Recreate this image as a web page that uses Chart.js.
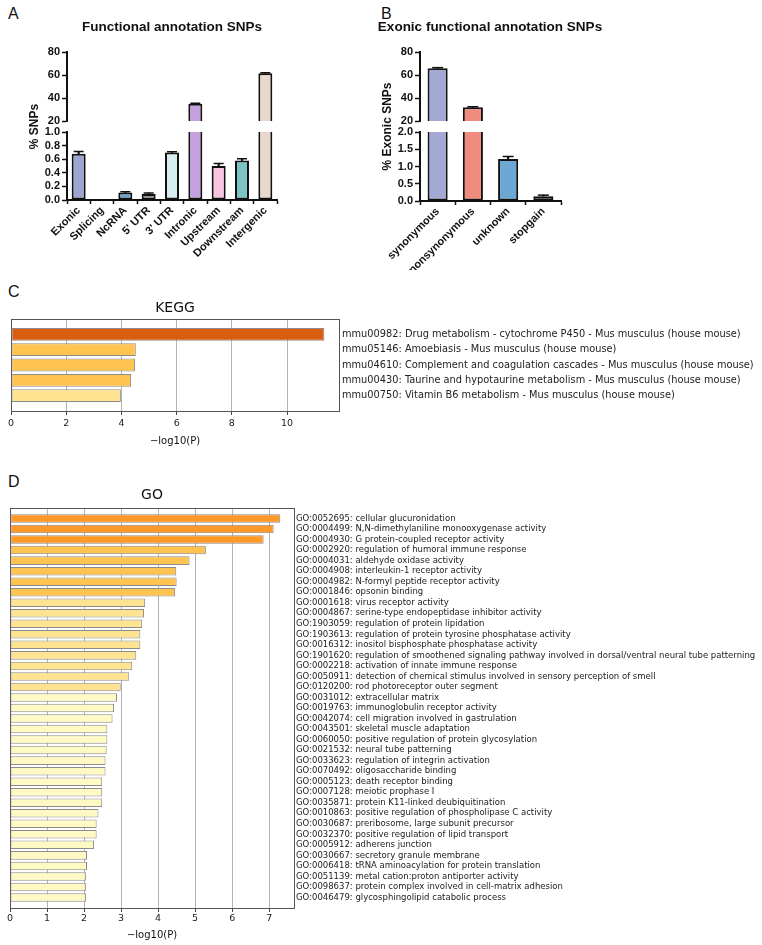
<!DOCTYPE html>
<html>
<head>
<meta charset="utf-8">
<script src="https://cdn.jsdelivr.net/npm/chart.js@4.4.1/dist/chart.umd.min.js"></script>
<style>
  body { margin: 0; background: #fff; width: 762px; height: 945px; position: relative; overflow: hidden; }
  canvas { position: absolute; }
  .tag { position: absolute; font: 16px "Liberation Sans", Arial, sans-serif; line-height: 16px; color: #111; }
</style>
</head>
<body>
<div class="tag" style="left:8px;top:6px">A</div>
<div class="tag" style="left:381px;top:6px">B</div>
<div class="tag" style="left:8px;top:284px">C</div>
<div class="tag" style="left:8px;top:474px">D</div>

<canvas id="chart-snp" width="380" height="270" style="left:0;top:0"></canvas>
<canvas id="chart-exonic" width="240" height="270" style="left:370px;top:0"></canvas>
<canvas id="chart-kegg" width="762" height="156" style="left:0;top:295px"></canvas>
<canvas id="chart-go" width="762" height="467" style="left:0;top:478px"></canvas>

<script>
// ---- A: functional annotation SNPs
const snpCategories = ['Exonic', 'Splicing', 'NcRNA', "5' UTR", "3' UTR", 'Intronic', 'Upstream', 'Downstream', 'Intergenic'];
const snpPercent = [0.68, 0, 0.11, 0.09, 0.70, 35.0, 0.50, 0.58, 61.5];
const snpError = [0.035, 0, 0.01, 0.012, 0.01, 0.4, 0.035, 0.025, 0.4];

// ---- B: exonic functional annotation SNPs
const exonicCategories = ['synonymous', 'nonsynonymous', 'unknown', 'stopgain'];
const exonicPercent = [65.8, 31.9, 1.22, 0.14];
const exonicError = [0.6, 0.5, 0.07, 0.03];

// ---- C: KEGG enrichment
const keggTerms = [
  'mmu00982: Drug metabolism - cytochrome P450 - Mus musculus (house mouse)',
  'mmu05146: Amoebiasis - Mus musculus (house mouse)',
  'mmu04610: Complement and coagulation cascades - Mus musculus (house mouse)',
  'mmu00430: Taurine and hypotaurine metabolism - Mus musculus (house mouse)',
  'mmu00750: Vitamin B6 metabolism - Mus musculus (house mouse)'
];
const keggLogP = [11.35, 4.52, 4.49, 4.35, 3.98];

// ---- D: GO enrichment
const goTerms = [
  'GO:0052695: cellular glucuronidation',
  'GO:0004499: N,N-dimethylaniline monooxygenase activity',
  'GO:0004930: G protein-coupled receptor activity',
  'GO:0002920: regulation of humoral immune response',
  'GO:0004031: aldehyde oxidase activity',
  'GO:0004908: interleukin-1 receptor activity',
  'GO:0004982: N-formyl peptide receptor activity',
  'GO:0001846: opsonin binding',
  'GO:0001618: virus receptor activity',
  'GO:0004867: serine-type endopeptidase inhibitor activity',
  'GO:1903059: regulation of protein lipidation',
  'GO:1903613: regulation of protein tyrosine phosphatase activity',
  'GO:0016312: inositol bisphosphate phosphatase activity',
  'GO:1901620: regulation of smoothened signaling pathway involved in dorsal/ventral neural tube patterning',
  'GO:0002218: activation of innate immune response',
  'GO:0050911: detection of chemical stimulus involved in sensory perception of smell',
  'GO:0120200: rod photoreceptor outer segment',
  'GO:0031012: extracellular matrix',
  'GO:0019763: immunoglobulin receptor activity',
  'GO:0042074: cell migration involved in gastrulation',
  'GO:0043501: skeletal muscle adaptation',
  'GO:0060050: positive regulation of protein glycosylation',
  'GO:0021532: neural tube patterning',
  'GO:0033623: regulation of integrin activation',
  'GO:0070492: oligosaccharide binding',
  'GO:0005123: death receptor binding',
  'GO:0007128: meiotic prophase I',
  'GO:0035871: protein K11-linked deubiquitination',
  'GO:0010863: positive regulation of phospholipase C activity',
  'GO:0030687: preribosome, large subunit precursor',
  'GO:0032370: positive regulation of lipid transport',
  'GO:0005912: adherens junction',
  'GO:0030667: secretory granule membrane',
  'GO:0006418: tRNA aminoacylation for protein translation',
  'GO:0051139: metal cation:proton antiporter activity',
  'GO:0098637: protein complex involved in cell-matrix adhesion',
  'GO:0046479: glycosphingolipid catabolic process'
];
const goLogP = [7.30, 7.12, 6.85, 5.29, 4.85, 4.49, 4.50, 4.46, 3.65, 3.62, 3.57, 3.52, 3.52, 3.41,
  3.30, 3.22, 2.99, 2.89, 2.81, 2.77, 2.63, 2.63, 2.61, 2.58, 2.58, 2.49, 2.49, 2.49, 2.39, 2.34,
  2.34, 2.27, 2.08, 2.08, 2.05, 2.05, 2.05];

// ---- styles
const FONT_A = '"Liberation Sans", Arial, sans-serif';
const FONT_M = '"DejaVu Sans", sans-serif';
const INK = '#111';
const snpColors = ['#9DA5D0', '#C8C8C8', '#6BA3D4', '#969696', '#D6EEF2', '#C4A0DE', '#F7C4E1', '#7DC4C4', '#E8D8CE'];
const exonicColors = ['#A4A8D4', '#F18B80', '#6DA7D4', '#969696'];
const keggColors = ['#D95F0E', '#FEC44F', '#FEC44F', '#FEC44F', '#FEE391'];
const goColors = goTerms.map((_, i) => i < 3 ? '#FE9929' : i < 8 ? '#FEC44F' : i < 17 ? '#FEE391' : '#FFF9C4');

Chart.defaults.animation = false;

// clip each dataset to the band of its own (broken) y axis
const splitClip = {
  id: 'splitClip',
  beforeDatasetDraw(chart, args) {
    const scale = chart.scales[args.meta.yAxisID];
    const area = chart.chartArea;
    const top = scale.top === area.top ? 0 : scale.top;
    const bottom = scale.bottom === area.bottom ? chart.height : scale.bottom;
    chart.ctx.save();
    chart.ctx.beginPath();
    chart.ctx.rect(0, top, chart.width, bottom - top);
    chart.ctx.clip();
  },
  afterDatasetDraw(chart) {
    chart.ctx.restore();
  }
};

function splitBarChart(canvasId, cfg) {
  const tickFont = { family: FONT_A, size: 11, weight: 'bold' };
  const datasets = [];
  ['yHigh', 'yLow'].forEach(axis => {
    datasets.push({
      type: 'line', yAxisID: axis, order: 0,
      data: cfg.values.map((v, i) => cfg.errors[i] ? v + cfg.errors[i] : null),
      showLine: false, pointStyle: 'line', pointRadius: cfg.capRadius,
      pointBorderWidth: 1.5, pointBorderColor: INK
    }, {
      type: 'bar', yAxisID: axis, order: 1,
      data: cfg.values.map((v, i) => [v, v + cfg.errors[i]]),
      backgroundColor: INK, barThickness: 1.5, grouped: false
    }, {
      type: 'bar', yAxisID: axis, order: 2,
      data: cfg.values,
      backgroundColor: cfg.colors, borderColor: INK, borderWidth: 2, borderSkipped: false,
      grouped: false, barPercentage: cfg.barPct, categoryPercentage: 1
    });
  });

  const yAxis = (extra) => Object.assign({
    type: 'linear', position: 'left', stack: 'split',
    grid: { display: true, drawOnChartArea: false, drawTicks: true, tickLength: 5, tickColor: INK, tickWidth: 1.5 },
    border: { color: INK, width: 2 },
    afterFit: s => { s.width = cfg.axisWidth; }
  }, extra);

  const scales = {
    x: {
      type: 'category', offset: true,
      grid: { display: true, drawOnChartArea: false, drawTicks: true, tickLength: 4, tickColor: INK, tickWidth: 1.5 },
      border: { color: INK, width: 2 },
      ticks: { font: tickFont, color: INK, autoSkip: false, maxRotation: 45, minRotation: 45, padding: 0 },
      afterFit: s => { s.height = cfg.xHeight; }
    },
    yLow: yAxis({
      min: 0, max: cfg.lowMax, stackWeight: cfg.weights[2], weight: 0,
      ticks: { stepSize: cfg.lowStep, autoSkip: false, font: tickFont, color: INK, padding: 2, callback: v => v.toFixed(1) }
    }),
    yGap: {
      type: 'linear', position: 'left', stack: 'split', stackWeight: cfg.weights[1], weight: 1,
      min: 0, max: 1,
      grid: { display: false }, border: { display: false }, ticks: { display: false },
      title: { display: true, text: cfg.yTitle, color: INK,
        font: { family: FONT_A, size: 12, weight: 'bold' }, padding: { top: cfg.yTitlePad, bottom: 0 } },
      afterFit: s => { s.width = cfg.axisWidth; }
    },
    yHigh: yAxis({
      min: 20, max: 80, stackWeight: cfg.weights[0], weight: 2,
      ticks: { stepSize: 20, autoSkip: false, font: tickFont, color: INK, padding: 2 }
    })
  };
  if (cfg.rightPad) {
    scales.yPad = {
      type: 'linear', position: 'right', grid: { display: false }, border: { display: false },
      ticks: { display: false }, afterFit: s => { s.width = cfg.rightPad; }
    };
  }

  return new Chart(document.getElementById(canvasId), {
    type: 'bar',
    data: { labels: cfg.categories, datasets },
    plugins: [splitClip],
    options: {
      responsive: false,
      events: [],
      layout: { padding: { left: 0, right: cfg.layoutRight || 0, top: 0, bottom: 0 } },
      plugins: {
        legend: { display: false },
        tooltip: { enabled: false },
        title: {
          display: true, text: cfg.title, fullSize: cfg.titleFull, color: INK,
          font: { family: FONT_A, size: 13.5, weight: 'bold' },
          padding: { top: 19, bottom: 16.8 }
        }
      },
      scales
    }
  });
}

function enrichmentChart(canvasId, cfg) {
  const edge = '#555';
  return new Chart(document.getElementById(canvasId), {
    type: 'bar',
    data: {
      datasets: [{
        data: cfg.values.map((v, i) => ({ x: v, y: i + 1 })),
        xAxisID: 'x', yAxisID: 'y',
        backgroundColor: cfg.colors, borderColor: '#8c8c8c', borderWidth: 1, borderSkipped: false,
        barPercentage: cfg.barPct, categoryPercentage: 1
      }]
    },
    options: {
      indexAxis: 'y',
      responsive: false,
      events: [],
      layout: { padding: 0 },
      plugins: {
        legend: { display: false },
        tooltip: { enabled: false },
        title: {
          display: true, text: cfg.title, fullSize: false, color: INK,
          font: { family: FONT_M, size: 14, weight: 'normal' }, padding: cfg.titlePad
        }
      },
      scales: {
        x: {
          type: 'linear', position: 'bottom', min: 0, max: cfg.xMax,
          ticks: { stepSize: cfg.xStep, includeBounds: false, font: { family: FONT_M, size: 9.5 }, color: '#222', padding: cfg.tickPad },
          grid: { color: '#b4b4b4', lineWidth: 1, drawTicks: true, tickLength: 4, tickColor: '#444' },
          border: { color: edge, width: 1 },
          title: { display: true, text: '\u2212log10(P)', color: INK, font: { family: FONT_M, size: 10 }, padding: { top: 0, bottom: 4 } },
          afterFit: s => { s.height = cfg.xHeight; }
        },
        xTop: {
          type: 'linear', position: 'top', min: 0, max: cfg.xMax,
          grid: { display: false }, ticks: { display: false }, border: { color: edge, width: 1 },
          afterFit: s => { s.height = 0; }
        },
        y: {
          type: 'linear', position: 'right', min: 0, max: cfg.terms.length + 1, reverse: true, offset: false,
          afterBuildTicks: s => { s.ticks = cfg.terms.map((_, i) => ({ value: i + 1 })); },
          ticks: { autoSkip: false, callback: v => cfg.terms[v - 1], font: { family: FONT_M, size: cfg.labelSize }, color: '#222', padding: cfg.labelPad },
          grid: { display: false, drawTicks: false, tickLength: 0, offset: false },
          border: { color: edge, width: 1 },
          afterFit: s => { s.width = cfg.labelWidth; }
        },
        yLeft: {
          type: 'linear', position: 'left', min: 0, max: cfg.terms.length + 1,
          grid: { display: false }, ticks: { display: false }, border: { color: edge, width: 1 },
          afterFit: s => { s.width = cfg.leftWidth; }
        }
      }
    }
  });
}

splitBarChart('chart-snp', {
  categories: snpCategories, values: snpPercent, errors: snpError, colors: snpColors,
  title: 'Functional annotation SNPs', titleFull: false, yTitle: '% SNPs', yTitlePad: 27,
  lowMax: 1.0, lowStep: 0.2, weights: [69, 11, 68], axisWidth: 67, xHeight: 70,
  barPct: 0.6, capRadius: 5, layoutRight: 103
});

splitBarChart('chart-exonic', {
  categories: exonicCategories, values: exonicPercent, errors: exonicError, colors: exonicColors,
  title: 'Exonic functional annotation SNPs', titleFull: true, yTitle: '% Exonic SNPs', yTitlePad: 10,
  lowMax: 2.0, lowStep: 0.5, weights: [69, 11, 69], axisWidth: 50, xHeight: 69,
  barPct: 0.57, capRadius: 5.5, rightPad: 49
});

enrichmentChart('chart-kegg', {
  terms: keggTerms, values: keggLogP, colors: keggColors, title: 'KEGG',
  titlePad: { top: 4.6, bottom: 2.6 }, xMax: 11.88, xStep: 2, tickPad: 3, xHeight: 40,
  labelSize: 9.8, labelPad: 3, labelWidth: 423, leftWidth: 11, barPct: 0.84
});

enrichmentChart('chart-go', {
  terms: goTerms, values: goLogP, colors: goColors, title: 'GO',
  titlePad: { top: 8.6, bottom: 4.6 }, xMax: 7.67, xStep: 1, tickPad: 1, xHeight: 37,
  labelSize: 8.5, labelPad: 2, labelWidth: 468, leftWidth: 10, barPct: 0.81
});
</script>
</body>
</html>
